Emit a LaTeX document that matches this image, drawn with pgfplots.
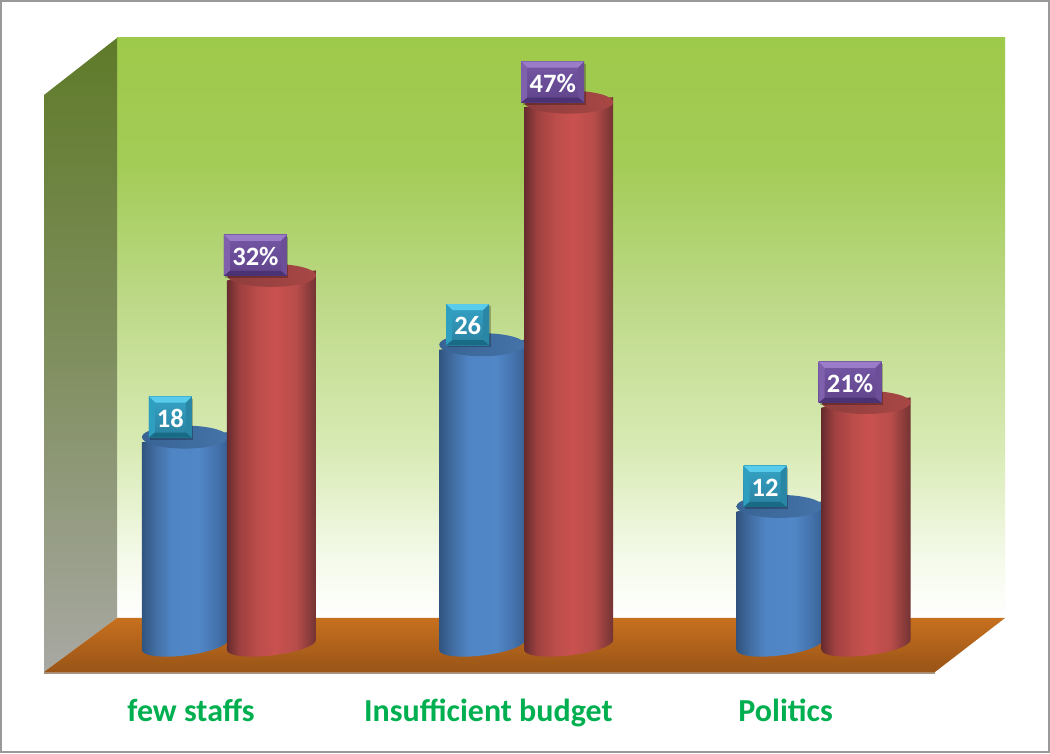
\documentclass[border=0pt]{standalone}
\usepackage{pgfplots}
\pgfplotsset{compat=1.18}
\usepackage{fontspec}
\setmainfont{Carlito}

% back wall, side wall and floor
\pgfdeclareverticalshading{backwall}{100bp}{
  rgb(0bp)=(1,1,1); rgb(25bp)=(1,1,1); rgb(30bp)=(0.96,0.98,0.92);
  rgb(39.5bp)=(0.85,0.92,0.71); rgb(52.4bp)=(0.74,0.85,0.53);
  rgb(64bp)=(0.64,0.80,0.34); rgb(75bp)=(0.62,0.79,0.29); rgb(100bp)=(0.62,0.79,0.29)}
\pgfdeclareverticalshading{sidewall}{100bp}{
  rgb(0bp)=(0.66,0.66,0.64); rgb(25bp)=(0.66,0.66,0.64); rgb(50bp)=(0.50,0.56,0.37);
  rgb(75bp)=(0.37,0.48,0.16); rgb(100bp)=(0.37,0.48,0.16)}
\pgfdeclareverticalshading{floorshade}{100bp}{
  rgb(0bp)=(0.60,0.33,0.09); rgb(25bp)=(0.60,0.33,0.09);
  rgb(75bp)=(0.78,0.44,0.12); rgb(100bp)=(0.78,0.44,0.12)}

% cylinder bodies and caps
\pgfdeclarehorizontalshading{bluebody}{100bp}{
  rgb(0bp)=(0.19,0.33,0.50); rgb(25bp)=(0.19,0.33,0.50); rgb(33bp)=(0.26,0.43,0.64);
  rgb(42bp)=(0.31,0.52,0.77); rgb(58bp)=(0.32,0.53,0.78); rgb(68bp)=(0.27,0.45,0.68);
  rgb(75bp)=(0.22,0.38,0.58); rgb(100bp)=(0.22,0.38,0.58)}
\pgfdeclarehorizontalshading{redbody}{100bp}{
  rgb(0bp)=(0.40,0.17,0.18); rgb(25bp)=(0.40,0.17,0.18); rgb(32bp)=(0.62,0.25,0.25);
  rgb(42bp)=(0.73,0.30,0.29); rgb(52bp)=(0.79,0.32,0.31); rgb(64bp)=(0.72,0.30,0.29);
  rgb(75bp)=(0.45,0.20,0.20); rgb(100bp)=(0.45,0.20,0.20)}
\pgfdeclarehorizontalshading{bluecap}{100bp}{
  rgb(0bp)=(0.22,0.39,0.58); rgb(25bp)=(0.22,0.39,0.58);
  rgb(75bp)=(0.27,0.45,0.66); rgb(100bp)=(0.27,0.45,0.66)}
\pgfdeclarehorizontalshading{redcap}{100bp}{
  rgb(0bp)=(0.56,0.24,0.24); rgb(25bp)=(0.56,0.24,0.24);
  rgb(75bp)=(0.66,0.28,0.27); rgb(100bp)=(0.66,0.28,0.27)}

\definecolor{bluetop}{HTML}{58CCEA}
\definecolor{blueleft}{HTML}{2F9FC0}
\definecolor{bluefacetop}{HTML}{35A4C6}
\definecolor{bluefacelow}{HTML}{2A809F}
\definecolor{blueright}{HTML}{2A86A5}
\definecolor{bluebottom}{HTML}{196A84}
\definecolor{purptop}{HTML}{9A7CC8}
\definecolor{purpleft}{HTML}{7F60AC}
\definecolor{purpfacetop}{HTML}{7557A6}
\definecolor{purpfacelow}{HTML}{5F4389}
\definecolor{purpright}{HTML}{6C4D98}
\definecolor{purpbottom}{HTML}{4B3274}
\definecolor{labelgreen}{HTML}{00B050}

\pgfdeclareplotmark{nothing}{}

% #1 body shading, #2 cap shading, #3 half width; the mark sits at the cap centre
\newcommand{\cylinder}[3]{%
  \pgfmathsetmacro{\hh}{\barval*11.55}%
  \path[shade,draw=none,shading=#1,shading angle=0]
    ({-#3pt},-5pt) -- ({-#3pt},{-\hh pt-5pt})
    .. controls ({-#3pt},{-\hh pt-10.8pt}) and ({-0.5523*#3pt},{-\hh pt-13.3pt}) .. (0pt,{-\hh pt-10.5pt})
    .. controls ({0.5523*#3pt},{-\hh pt-7.7pt}) and ({#3pt},{-\hh pt-0.8pt}) .. ({#3pt},{-\hh pt+5pt})
    -- ({#3pt},5pt) -- cycle;
  \path[shade,draw=none,shading=#2,shading angle=0,rotate=6.5]
    (0pt,0pt) ellipse [x radius=#3pt,y radius=11.5pt];}

% #1 half width, #2 dx, #3 dy, #4 colour prefix
\newcommand{\tagbox}[4]{%
  \pgfmathsetmacro{\tl}{#2-#1}\pgfmathsetmacro{\tr}{#2+#1}%
  \pgfmathsetmacro{\tt}{#3+20.5}\pgfmathsetmacro{\tb}{#3-20.5}%
  \pgfmathsetmacro{\il}{\tl+6}\pgfmathsetmacro{\ir}{\tr-6}%
  \pgfmathsetmacro{\it}{\tt-6}\pgfmathsetmacro{\ib}{\tb+5}%
  \fill[black,opacity=.25,draw=none] (\tl pt+1.5pt,\tb pt-2pt) rectangle (\tr pt+1.5pt,\tt pt-2pt);
  \path[shade,draw=none,top color=#4facetop,bottom color=#4facelow] (\tl pt,\tb pt) rectangle (\tr pt,\tt pt);
  \fill[#4top,draw=none] (\tl pt,\tt pt) -- (\tr pt,\tt pt) -- (\ir pt,\it pt) -- (\il pt,\it pt) -- cycle;
  \fill[#4left,draw=none] (\tl pt,\tt pt) -- (\il pt,\it pt) -- (\il pt,\ib pt) -- (\tl pt,\tb pt) -- cycle;
  \fill[#4right,draw=none] (\tr pt,\tt pt) -- (\ir pt,\it pt) -- (\ir pt,\ib pt) -- (\tr pt,\tb pt) -- cycle;
  \fill[#4bottom,draw=none] (\tl pt,\tb pt) -- (\tr pt,\tb pt) -- (\ir pt,\ib pt) -- (\il pt,\ib pt) -- cycle;}

\pgfplotstableread{
x      y
-0.145 18
 0.855 26
 1.855 12
}\countdata
\pgfplotstableread{
x     y
0.146 32
1.146 47
2.146 21
}\sharedata

\begin{document}
\begin{tikzpicture}[x=1pt,y=1pt]
  \path[use as bounding box] (0,0) rectangle (1050,753);
  \fill[white] (0,0) rectangle (1050,753);
  \draw[color=black!40,line width=2pt] (1,1) rectangle (1049,752);

  \path[shade,shading=backwall] (117,135) rectangle (1005,715);
  \path[shade,shading=sidewall] (44,81) -- (117,135) -- (117,715) -- (44,658) -- cycle;
  \fill[color=black!40!brown!60] (44,79.5) rectangle (935,81.5);
  \path[shade,shading=floorshade] (44,81) -- (117,135) -- (1005,135) -- (935,81) -- cycle;

  \begin{axis}[
    at={(44pt,108pt)}, anchor=south west,
    scale only axis, width=891pt, height=577.5pt,
    xmin=-0.619, xmax=2.378, ymin=0, ymax=50,
    clip=false,
    axis line style={draw=none},
    major tick length=0pt,
    ytick=\empty,
    xtick={0,1,2},
    xticklabels={few staffs,Insufficient budget,Politics},
    x tick label style={anchor=base,xshift=-37pt,yshift=-76pt,
      font=\fontsize{32}{38}\selectfont\bfseries,text=labelgreen},
    /pgf/number format/assume math mode=true,
    visualization depends on={rawy \as \barval},
    cyl/.style n args={2}{scatter,only marks,mark=nothing,
      scatter/@pre marker code/.code={#1\pgfscope},
      scatter/@post marker code/.code={\endpgfscope}},
    tagtext/.style={only marks,mark=none,
      every node near coord/.append style={anchor=center,text=white,
        xshift=#1pt,yshift=19pt,font=\fontsize{26.5}{30}\selectfont\bfseries}},
  ]
    % cylinders: counts first, then shares in percent
    \addplot[cyl={\cylinder{bluebody}{bluecap}{43}}{}] table {\countdata};
    \addplot[cyl={\cylinder{redbody}{redcap}{44.5}}{}] table {\sharedata};
    % bevelled value tags
    \addplot[cyl={\tagbox{21.5}{-14.5}{20}{blue}}{}] table {\countdata};
    \addplot[cyl={\tagbox{31.5}{-16}{20}{purp}}{}] table {\sharedata};
    % values on the tags
    \addplot[tagtext=-14.5,nodes near coords={\pgfmathprintnumber{\pgfplotspointmeta}}] table {\countdata};
    \addplot[tagtext=-16,nodes near coords={\pgfmathprintnumber{\pgfplotspointmeta}\%}] table {\sharedata};
  \end{axis}
\end{tikzpicture}
\end{document}
